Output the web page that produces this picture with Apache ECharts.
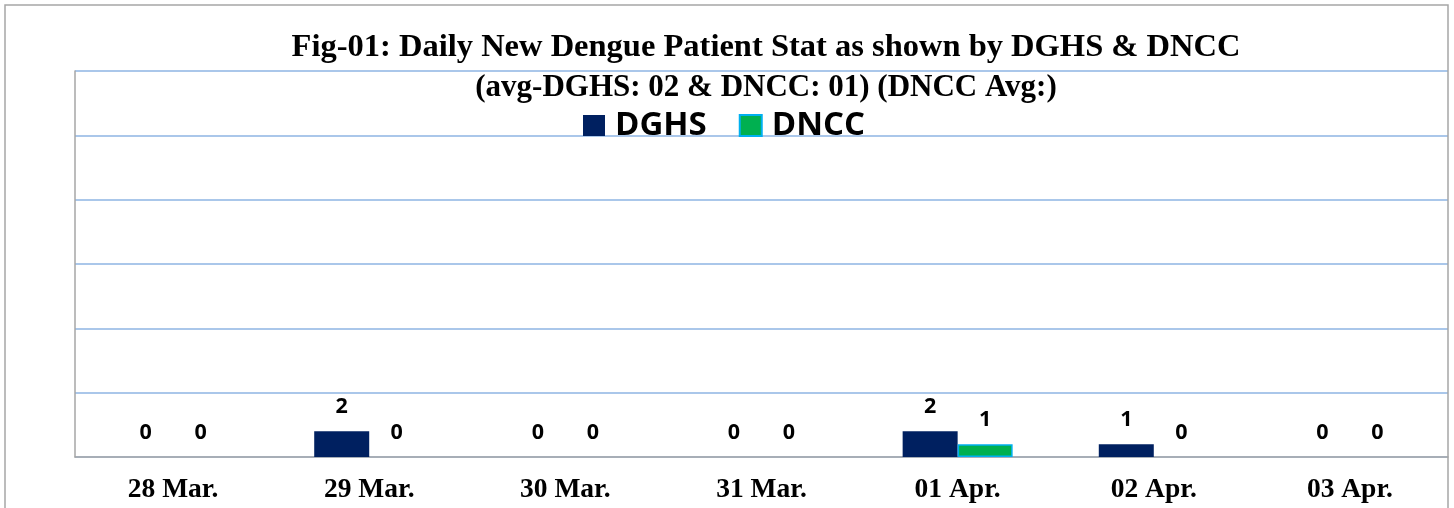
<!DOCTYPE html>
<html>
<head>
<meta charset="utf-8">
<script src="https://cdn.jsdelivr.net/npm/echarts@6/dist/echarts.min.js"></script>
<style>
html,body{margin:0;padding:0;background:#fff;}
#chart{width:1454px;height:508px;}
</style>
</head>
<body>
<div id="chart"></div>
<script>
const categories = ['28 Mar.', '29 Mar.', '30 Mar.', '31 Mar.', '01 Apr.', '02 Apr.', '03 Apr.'];
const dghsValues = [0, 2, 0, 0, 2, 1, 0];
const dnccValues = [0, 0, 0, 0, 1, 0, 0];
const seriesNames = ['DGHS', 'DNCC'];
const titleLine1 = 'Fig-01: Daily New Dengue Patient Stat as shown by DGHS & DNCC';
const titleLine2 = '(avg-DGHS: 02 & DNCC: 01) (DNCC Avg:)';

const chart = echarts.init(document.getElementById('chart'), null, {renderer: 'canvas'});
const labelStyle = {
  show: true,
  position: 'top',
  distance: 13,
  fontFamily: 'Open Sans',
  fontWeight: 'bold',
  fontSize: 21.5,
  color: '#000'
};
const dnccData = dnccValues.map(v => (v === 0 ? {value: v, itemStyle: {borderWidth: 0}} : {value: v}));
chart.setOption({
  animation: false,
  backgroundColor: '#fff',
  graphic: [{
    type: 'rect',
    shape: {x: 5, y: 5, width: 1443, height: 530},
    style: {fill: 'none', stroke: '#a6a6a6', lineWidth: 1.5},
    z: 100,
    silent: true
  }],
  title: {
    text: '{a|' + titleLine1 + '}\n{b|' + titleLine2 + '}',
    left: 761,
    top: 23,
    textAlign: 'center',
    textStyle: {
      rich: {
        a: {fontFamily: 'Liberation Serif', fontWeight: 'bold', fontSize: 32.5, lineHeight: 40, color: '#000'},
        b: {fontFamily: 'Liberation Serif', fontWeight: 'bold', fontSize: 31, lineHeight: 40, color: '#000'}
      }
    }
  },
  legend: {
    data: seriesNames,
    left: 578,
    top: 104,
    icon: 'rect',
    itemWidth: 22,
    itemHeight: 21,
    itemGap: 32,
    textStyle: {
      fontFamily: 'Open Sans',
      fontWeight: 'bold',
      fontSize: 33,
      color: '#000',
      padding: [0, 0, 0, 5]
    }
  },
  grid: {left: 75, right: 6, top: 71, bottom: 51, containLabel: false},
  xAxis: {
    type: 'category',
    data: categories,
    axisLine: {show: true, lineStyle: {color: '#a6a6a6', width: 1.5}},
    axisTick: {show: false},
    axisLabel: {
      margin: 19,
      fontFamily: 'Liberation Serif',
      fontWeight: 'bold',
      fontSize: 27.5,
      color: '#000'
    }
  },
  yAxis: {
    type: 'value',
    min: 0,
    max: 30,
    interval: 5,
    axisLine: {show: true, lineStyle: {color: '#a6a6a6', width: 1.5}},
    axisTick: {show: false},
    axisLabel: {show: false},
    splitLine: {show: true, lineStyle: {color: '#8eb4e3', width: 1.5}}
  },
  series: [{
    name: seriesNames[0],
    type: 'bar',
    data: dghsValues,
    barWidth: 55,
    barGap: '0%',
    itemStyle: {color: '#002060'},
    label: labelStyle
  }, {
    name: seriesNames[1],
    type: 'bar',
    data: dnccData,
    barWidth: 55,
    barGap: '0%',
    itemStyle: {color: '#00b050', borderColor: '#00b0f0', borderWidth: 1.5},
    label: labelStyle
  }]
});
</script>
</body>
</html>
